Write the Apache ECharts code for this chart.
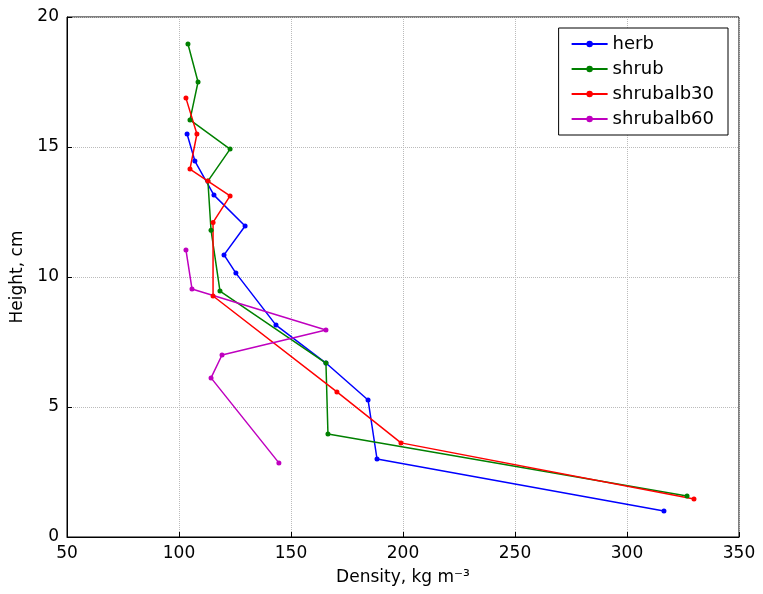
<html>
<head>
<script src="https://cdn.jsdelivr.net/npm/echarts@6/dist/echarts.min.js"></script>
</head>
<body style="margin:0;background:#fff">
<div id="main" style="width:763px;height:594px;"></div>
<script>
var herbX = [103.6, 107.1, 115.6, 129.5, 120.1, 125.4, 143.3, 165.6, 184.4, 188.4, 316.5];
var herbY = [15.5, 14.46, 13.15, 11.96, 10.85, 10.15, 8.15, 6.69, 5.27, 3.0, 1.0];
var shrubX = [104, 108.5, 104.9, 122.8, 112.9, 114.3, 118.3, 165.6, 166.5, 326.8];
var shrubY = [18.96, 17.5, 16.04, 14.92, 13.69, 11.8, 9.46, 6.69, 3.96, 1.58];
var alb30X = [103.1, 108, 104.9, 112.9, 122.8, 115.2, 115.2, 170.5, 199.1, 329.9];
var alb30Y = [16.88, 15.5, 14.15, 13.69, 13.12, 12.1, 9.27, 5.58, 3.62, 1.46];
var alb60X = [103.1, 105.8, 165.6, 119.2, 114.3, 144.6];
var alb60Y = [11.04, 9.54, 7.96, 7.0, 6.12, 2.85];

function pairs(xs, ys) {
  return xs.map(function (x, i) { return [x, ys[i]]; });
}
function mk(name, xs, ys, color) {
  return {
    name: name, type: 'line', data: pairs(xs, ys),
    symbol: 'circle', symbolSize: 5, animation: false,
    lineStyle: {color: color, width: 1.5}, itemStyle: {color: color}
  };
}
var font = 'DejaVu Sans';
var chart = echarts.init(document.getElementById('main'));
chart.setOption({
  textStyle: {fontFamily: font},
  grid: {left: 67, right: 24, top: 17, bottom: 57},
  legend: {
    orient: 'vertical', right: 35, top: 28, itemWidth: 36, itemHeight: 8,
    backgroundColor: '#fff', borderColor: '#000', borderWidth: 1, padding: [7, 14, 7, 12],
    itemGap: 7, textStyle: {fontSize: 18, color: '#000', fontFamily: font}
  },
  xAxis: {
    type: 'value', min: 50, max: 350, interval: 50,
    name: 'Density, kg m⁻³', nameLocation: 'middle', nameGap: 32,
    nameTextStyle: {fontSize: 17, color: '#000'},
    axisLine: {lineStyle: {color: '#000'}}, axisTick: {inside: true, lineStyle: {color: '#000'}},
    axisLabel: {fontSize: 17, color: '#000'},
    splitLine: {lineStyle: {type: 'dotted', color: '#bbb'}}
  },
  yAxis: {
    type: 'value', min: 0, max: 20, interval: 5,
    name: 'Height, cm', nameLocation: 'middle', nameGap: 36,
    nameTextStyle: {fontSize: 17, color: '#000'},
    axisLine: {show: true, lineStyle: {color: '#000'}}, axisTick: {show: true, inside: true, lineStyle: {color: '#000'}},
    axisLabel: {fontSize: 17, color: '#000'},
    splitLine: {lineStyle: {type: 'dotted', color: '#bbb'}}
  },
  series: [
    mk('herb', herbX, herbY, '#0000ff'),
    mk('shrub', shrubX, shrubY, '#008000'),
    mk('shrubalb30', alb30X, alb30Y, '#ff0000'),
    mk('shrubalb60', alb60X, alb60Y, '#bf00bf')
  ],
  graphic: [{type: 'rect', shape: {x: 67, y: 17, width: 672, height: 520},
    style: {fill: 'none', stroke: '#000', lineWidth: 1}, silent: true}]
});
</script>
</body>
</html>
